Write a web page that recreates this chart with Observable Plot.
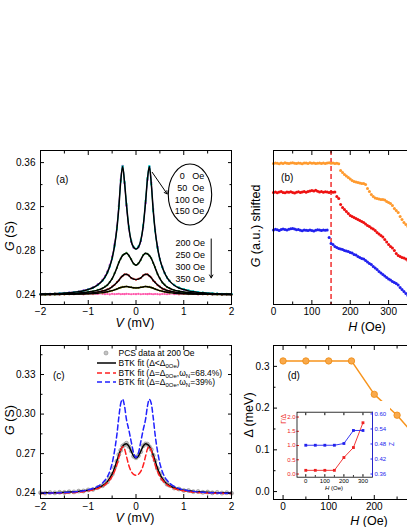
<!DOCTYPE html>
<html><head><meta charset="utf-8">
<script src="https://cdn.jsdelivr.net/npm/d3@7"></script>
<script src="https://cdn.jsdelivr.net/npm/@observablehq/plot@0.6"></script>
<style>
body{margin:0;background:#fff;}
#fig{position:relative;width:407px;height:527px;overflow:hidden;background:#fff;font-family:"Liberation Sans",Arial,sans-serif;color:#000;}
#fig svg{position:absolute;max-width:none;}
.lab{position:absolute;white-space:nowrap;transform:translate(-50%,-50%);font-size:12.5px;line-height:1;}
.rot{transform:translate(-50%,-50%) rotate(-90deg);}
.leg{position:absolute;font-size:8.5px;white-space:nowrap;line-height:10px;height:10px;display:flex;align-items:center;}
.leg svg{position:static !important;margin-right:3px;}
.leg sub{font-size:6px;vertical-align:-2px;line-height:0;}
</style></head><body><div id="fig"></div><script>
// ---------- panel (a) / (c): bias grid and conductance curves ----------
const Vgrid = [-2,-1.9,-1.8,-1.7,-1.6,-1.5,-1.4,-1.3,-1.2,-1.1,-1,-0.9,-0.8,-0.7,
  -0.65,-0.6,-0.55,-0.5,-0.45,-0.4,-0.36,-0.32,-0.28,-0.24,-0.2,-0.15,-0.1,-0.05,0,
  0.05,0.1,0.15,0.2,0.24,0.28,0.32,0.36,0.4,0.45,0.5,0.55,0.6,0.65,
  0.7,0.8,0.9,1,1.1,1.2,1.3,1.4,1.5,1.6,1.7,1.8,1.9,2];
const fitLow = [.2405,.2406,.2407,.2409,.2411,.2414,.2417,.2421,.2427,.2435,.2447,.2462,.2488,.2528,
  .2558,.2600,.2655,.2730,.2840,.3000,.3190,.3430,.3565,.3420,.3220,.3010,.2885,.2830,.2815,
  .2832,.2890,.3020,.3240,.3450,.3565,.3410,.3170,.2985,.2830,.2722,.2650,.2596,.2555,
  .2525,.2485,.2460,.2446,.2434,.2426,.2420,.2416,.2413,.2410,.2408,.2406,.2405,.2404];
const g0Oe = [.2404,.2408,.2406,.2410,.2410,.2416,.2418,.2423,.2429,.2438,.2451,.2468,.2495,.2537,
  .2568,.2612,.2670,.2748,.2862,.3025,.3215,.3450,.3570,.3410,.3205,.2998,.2878,.2826,.2814,
  .2828,.2884,.3010,.3228,.3440,.3562,.3420,.3180,.2992,.2836,.2726,.2652,.2598,.2557,
  .2527,.2487,.2462,.2447,.2436,.2427,.2420,.2417,.2413,.2411,.2407,.2406,.2404,.2403];
const g50Oe = [.2403,.2405,.2408,.2408,.2412,.2413,.2419,.2422,.2428,.2436,.2449,.2465,.2491,.2533,
  .2563,.2606,.2663,.2740,.2852,.3014,.3205,.3442,.3568,.3415,.3212,.3004,.2882,.2828,.2816,
  .2830,.2887,.3015,.3235,.3446,.3564,.3415,.3175,.2990,.2834,.2725,.2652,.2597,.2556,
  .2526,.2486,.2461,.2447,.2435,.2427,.2421,.2416,.2414,.2410,.2409,.2405,.2406,.2404];
const g100Oe = [.2406,.2405,.2407,.2408,.2411,.2414,.2416,.2421,.2426,.2434,.2446,.2461,.2486,.2525,
  .2555,.2597,.2651,.2725,.2834,.2992,.3182,.3425,.3563,.3428,.3230,.3020,.2892,.2834,.2817,
  .2838,.2898,.3032,.3255,.3462,.3568,.3400,.3158,.2975,.2822,.2716,.2646,.2594,.2554,
  .2526,.2488,.2465,.2451,.2439,.2430,.2423,.2419,.2415,.2412,.2409,.2407,.2406,.2405];
const g150Oe = [.2405,.2407,.2406,.2409,.2410,.2415,.2417,.2420,.2427,.2435,.2447,.2463,.2489,.2530,
  .2560,.2603,.2659,.2735,.2846,.3007,.3198,.3436,.3566,.3422,.3222,.3013,.2888,.2831,.2816,
  .2835,.2894,.3026,.3248,.3456,.3566,.3405,.3165,.2980,.2826,.2720,.2649,.2597,.2557,
  .2528,.2489,.2464,.2450,.2438,.2429,.2422,.2418,.2414,.2412,.2410,.2406,.2407,.2404];
const fit200 = [.2402,.2403,.2403,.2404,.2405,.2407,.2409,.2411,.2414,.2418,.2423,.2430,.2441,.2458,
  .2470,.2488,.2512,.2545,.2590,.2645,.2690,.2728,.2755,.2770,.2776,.2757,.2718,.2682,.2667,
  .2682,.2718,.2757,.2776,.2770,.2755,.2728,.2690,.2645,.2590,.2545,.2512,.2488,.2470,
  .2458,.2441,.2430,.2423,.2418,.2414,.2411,.2409,.2407,.2405,.2404,.2403,.2403,.2402];
const g200Oe = [.2404,.2401,.2405,.2403,.2407,.2406,.2411,.2410,.2416,.2417,.2425,.2429,.2443,.2457,
  .2473,.2486,.2515,.2543,.2594,.2642,.2693,.2725,.2758,.2768,.2779,.2754,.2721,.2680,.2669,
  .2684,.2715,.2760,.2774,.2772,.2752,.2731,.2687,.2648,.2587,.2548,.2509,.2491,.2468,
  .2460,.2439,.2432,.2421,.2420,.2412,.2413,.2407,.2409,.2403,.2406,.2401,.2404,.2400];
const fit250 = [.2401,.2402,.2402,.2403,.2403,.2404,.2405,.2406,.2408,.2410,.2413,.2417,.2423,.2432,
  .2438,.2446,.2457,.2471,.2489,.2510,.2530,.2552,.2570,.2582,.2585,.2572,.2552,.2541,.2537,
  .2541,.2552,.2572,.2585,.2582,.2570,.2552,.2530,.2510,.2489,.2471,.2457,.2446,.2438,
  .2432,.2423,.2417,.2413,.2410,.2408,.2406,.2405,.2404,.2403,.2403,.2402,.2402,.2401];
const g250Oe = [.2399,.2404,.2400,.2405,.2402,.2406,.2403,.2408,.2407,.2412,.2412,.2419,.2421,.2435,
  .2436,.2449,.2455,.2474,.2487,.2513,.2528,.2555,.2568,.2585,.2583,.2575,.2550,.2543,.2535,
  .2544,.2550,.2575,.2583,.2585,.2568,.2555,.2527,.2513,.2486,.2474,.2454,.2448,.2436,
  .2434,.2421,.2419,.2411,.2412,.2406,.2408,.2403,.2406,.2401,.2405,.2400,.2403,.2399];
const fit300 = [.2400,.2401,.2401,.2402,.2402,.2403,.2403,.2404,.2405,.2406,.2408,.2410,.2413,.2418,
  .2421,.2425,.2430,.2436,.2443,.2451,.2458,.2464,.2469,.2472,.2473,.2470,.2466,.2462,.2461,
  .2462,.2466,.2470,.2473,.2472,.2469,.2464,.2458,.2451,.2443,.2436,.2430,.2425,.2421,
  .2418,.2413,.2410,.2408,.2406,.2405,.2404,.2403,.2403,.2402,.2402,.2401,.2401,.2400];
const g300Oe = [.2401,.2399,.2402,.2400,.2403,.2401,.2404,.2403,.2406,.2405,.2409,.2409,.2414,.2417,
  .2422,.2424,.2431,.2435,.2444,.2450,.2459,.2463,.2470,.2471,.2474,.2469,.2467,.2461,.2462,
  .2461,.2467,.2469,.2474,.2471,.2470,.2463,.2459,.2450,.2444,.2435,.2431,.2424,.2422,
  .2417,.2414,.2409,.2409,.2405,.2406,.2403,.2404,.2402,.2403,.2400,.2402,.2400,.2401];
const g350Oe = [.2405,.2402,.2407,.2403,.2406,.2401,.2405,.2404,.2407,.2402,.2406,.2403,.2405,.2407,
  .2404,.2406,.2402,.2407,.2404,.2405,.2408,.2403,.2406,.2404,.2407,.2405,.2403,.2406,.2404,
  .2407,.2403,.2405,.2406,.2404,.2407,.2405,.2403,.2406,.2404,.2402,.2406,.2405,.2403,
  .2406,.2404,.2402,.2405,.2403,.2406,.2401,.2404,.2402,.2405,.2403,.2401,.2404,.2402];
const btkRed = [.2398,.2398,.2399,.2399,.2400,.2401,.2403,.2405,.2408,.2412,.2418,.2425,.2436,.2452,
  .2464,.2480,.2500,.2528,.2565,.2615,.2670,.2725,.2752,.2735,.2680,.2610,.2565,.2543,.2537,
  .2543,.2565,.2610,.2680,.2735,.2752,.2725,.2670,.2615,.2565,.2528,.2500,.2480,.2464,
  .2452,.2436,.2425,.2418,.2412,.2408,.2405,.2403,.2401,.2400,.2399,.2399,.2398,.2398];
const btkBlue = [.2400,.2400,.2401,.2402,.2403,.2405,.2407,.2410,.2414,.2419,.2426,.2436,.2452,.2478,
  .2498,.2524,.2565,.2626,.2720,.2845,.2975,.3080,.3112,.3060,.2960,.2880,.2790,.2705,.2671,
  .2705,.2790,.2880,.2960,.3060,.3112,.3080,.2975,.2845,.2720,.2626,.2565,.2524,.2498,
  .2478,.2452,.2436,.2426,.2419,.2414,.2410,.2407,.2405,.2403,.2402,.2401,.2400,.2400];

// ---------- panel (b): G vs H, shifted (a.u.) ----------
const Hb = [0,5,10,15,20,25,30,35,40,45,50,55,60,65,70,75,80,85,90,95,100,105,110,115,120,125,130,135,140,145,150,155,160,165,170,
  175,180,185,190,195,200,205,210,215,220,225,230,235,240,245,250,255,260,265,270,275,280,285,290,295,300,305,310,315,320,325,330,335,340,345,350];
const bOrange = [141.0,141.6,141.2,140.8,141.5,141.1,141.7,141.3,140.9,141.4,141.8,141.2,141.0,141.5,141.3,140.8,141.6,141.4,141.0,141.7,141.2,141.5,140.9,141.3,141.6,141.1,141.4,141.0,141.5,141.8,141.2,141.4,141.1,141.3,140.8,
  134,132,130,128.5,127,125.5,124,123,122.5,122,121.5,121,121,120,116,113,110,108,106.5,106,105.5,105,105,104.5,103,102,101,99,96,94,92,88,85,82,80,78];
const bRed = [112.0,112.6,111.8,112.4,112.9,112.1,111.7,112.5,112.2,112.8,112.0,111.6,112.3,112.7,112.1,112.5,112.9,112.2,113.0,113.4,114.0,113.6,114.2,113.3,112.6,112.9,112.2,112.7,112.4,112.0,112.8,112.3,112.5,
  108,106,100,97,95,93,91,89,88,87,86,85,84,83,82,80.5,79,78,76.5,75.5,74,72,70.5,69,67.5,65,62.5,60,58,56.5,54,51,49,48,47,46.5,45.5,44];
const bBlue = [74.5,75.2,74.8,74.1,74.9,75.5,75.0,74.4,75.3,75.8,76.0,75.4,74.7,75.1,74.3,73.8,74.6,74.2,73.9,74.5,74.0,73.6,74.3,74.8,74.4,73.9,74.6,74.2,74.5,
  67,61,60,58,57,56,55.5,55,54,53.5,53,52,51.5,50,49.5,48,47,46,45.5,44,42.5,41,40,38,36.5,35,33,31.5,30,28.5,27,25.5,24.5,23,22,21,19.5,17,15,13,11,9];
const bCritical = [150];

// ---------- panel (d) and inset ----------
const dH = [0,50,100,150,200,250,300];
const dGap = [0.313,0.313,0.313,0.313,0.233,0.183,0.12];
const insetH = [0,50,100,150,200,250,300];
const gammaRatio = [0.13,0.13,0.13,0.13,0.58,0.93,1.80];
const zBarrier = [0.475,0.475,0.475,0.475,0.482,0.534,0.534];

// ---------- tick labels ----------
const vMajor = [-2,-1,0,1,2], vMinor = [-1.5,-0.5,0.5,1.5];
const aYMajor = [0.24,0.28,0.32,0.36], aYMinor = [0.26,0.30,0.34];
const cYMajor = [0.24,0.27,0.30,0.33], cYMinor = [0.255,0.285,0.315,0.345];
const bXMajor = [0,100,200,300,400], bXMinor = [50,150,250,350,450], bXLabels = [0,100,200,300];
const dXMajor = [0,100,200,300], dXMinor = [50,150,250,350], dXLabels = [0,100,200];
const dYMajor = [0,0.1,0.2,0.3], dYMinor = [0.05,0.15,0.25];
const iXMajor = [0,100,200,300], iXMinor = [50,150,250];
const iLMajor = [0,0.5,1,1.5,2], iRMajor = [0.36,0.42,0.48,0.54,0.60];
const fieldsLow = ["0","50","100","150"];
const fieldsHigh = ["200 Oe","250 Oe","300 Oe","350 Oe"];

const rows = (arr) => Vgrid.map((V, i) => ({V, G: arr[i]}));
const hrows = (arr) => Hb.map((H, i) => ({H, G: arr[i]}));
const FONT = '"Liberation Sans", Arial, sans-serif';
const style = (fs) => ({fontFamily: FONT, fontSize: fs + "px", background: "transparent", maxWidth: "none", overflow: "visible", color: "#000"});
const none = () => "";

function boxAxes(o) {
  const m = [];
  const tl = o.tl ?? 4, tm = o.tm ?? 2.5;
  for (const anchor of ["bottom", "top"]) {
    m.push(Plot.axisX({anchor, ticks: o.xMajor, tickSize: -tl, tickFormat: none, label: null}));
    if (o.xMinor) m.push(Plot.axisX({anchor, ticks: o.xMinor, tickSize: -tm, tickFormat: none, label: null}));
  }
  if (o.yMajor) for (const anchor of ["left", "right"]) {
    m.push(Plot.axisY({anchor, ticks: o.yMajor, tickSize: -tl, tickFormat: none, label: null}));
    if (o.yMinor) m.push(Plot.axisY({anchor, ticks: o.yMinor, tickSize: -tm, tickFormat: none, label: null}));
  }
  m.push(Plot.axisX({anchor: "bottom", ticks: o.xLabels ?? o.xMajor, tickSize: 0, tickPadding: o.xPad ?? 3, tickFormat: o.xFmt, label: null}));
  if (o.yMajor) m.push(Plot.axisY({anchor: "left", ticks: o.yMajor, tickSize: 0, tickPadding: o.yPad ?? 5, tickFormat: o.yFmt, label: null}));
  m.push(Plot.frame({stroke: "#000", strokeWidth: 1}));
  return m;
}

const fig = document.getElementById("fig");
function place(svg, left, top) { svg.style.left = left + "px"; svg.style.top = top + "px"; fig.appendChild(svg); }
function label(html, cx, cy, rot, extra) {
  const d = document.createElement("div");
  d.className = "lab" + (rot ? " rot" : "");
  d.style.left = cx + "px"; d.style.top = cy + "px";
  if (extra) Object.assign(d.style, extra);
  d.innerHTML = html; fig.appendChild(d);
}
const fmt2 = d3.format(".2f"), fmt1 = d3.format(".1f"), fmtD = d3.format("d");

// ---------- (a) ----------
const aData = [
  [g350Oe, "#ff55aa"], [g300Oe, "#a3a300"], [g250Oe, "#ee2222"], [g200Oe, "#22a022"],
  [g0Oe, "#ff33ff"], [g50Oe, "#4a4aff"], [g150Oe, "#66dd22"], [g100Oe, "#00e0ff"]
];
const ellipseMark = (index, scales) => {
  const e = document.createElementNS("http://www.w3.org/2000/svg", "ellipse");
  e.setAttribute("cx", scales.x(1.141)); e.setAttribute("cy", scales.y(0.3305));
  e.setAttribute("rx", 21.7); e.setAttribute("ry", 30.5);
  e.setAttribute("fill", "none"); e.setAttribute("stroke", "#000"); e.setAttribute("stroke-width", 1.1);
  return e;
};
const plotA = Plot.plot({
  width: 245, height: 200, marginLeft: 40, marginRight: 14, marginTop: 10, marginBottom: 36,
  x: {domain: [-2, 2]}, y: {domain: [0.231, 0.371]}, style: style(10),
  marks: [
    ...aData.flatMap(([arr, c]) => [
      Plot.line(rows(arr), {x: "V", y: "G", stroke: c, strokeWidth: 0.8, curve: "monotone-x"}),
      Plot.dot(rows(arr), {x: "V", y: "G", fill: c, r: 1.05})
    ]),
    ...[fit300, fit250, fit200, fitLow].map(arr => Plot.line(rows(arr), {x: "V", y: "G", stroke: "#000", strokeWidth: 1.5, curve: "monotone-x"})),
    ellipseMark,
    Plot.text([fieldsLow.join("\n")], {x: () => 0.968, y: () => 0.3323, textAnchor: "middle", lineAnchor: "middle", lineHeight: 1.3, fontSize: 9}),
    Plot.text([fieldsLow.map(() => "Oe").join("\n")], {x: () => 1.177, y: () => 0.3323, textAnchor: "start", lineAnchor: "middle", lineHeight: 1.3, fontSize: 9}),
    Plot.text([fieldsHigh.join("\n")], {x: () => 0.827, y: () => 0.2714, textAnchor: "start", lineAnchor: "middle", lineHeight: 1.32, fontSize: 9}),
    Plot.arrow([0], {x1: () => 0.339, y1: () => 0.3512, x2: () => 0.653, y2: () => 0.3315, stroke: "#000", strokeWidth: 1, headLength: 5}),
    Plot.arrow([0], {x1: () => 1.575, y1: () => 0.2906, x2: () => 1.575, y2: () => 0.2552, stroke: "#000", strokeWidth: 1, headLength: 5}),
    Plot.text(["(a)"], {frameAnchor: "top-left", dx: 21.7, dy: 25, textAnchor: "middle", fontSize: 10}),
    ...boxAxes({xMajor: vMajor, xMinor: vMinor, yMajor: aYMajor, yMinor: aYMinor, xFmt: fmtD, yFmt: fmt2})
  ]
});
place(plotA, 0, 140);

// ---------- (b) ----------
const plotB = Plot.plot({
  width: 211, height: 200, marginLeft: 23, marginRight: 0, marginTop: 10, marginBottom: 36,
  x: {domain: [0, 490]}, y: {domain: [0, 154], axis: null}, style: style(10),
  marks: [
    Plot.ruleX(bCritical, {stroke: "#ee1111", strokeWidth: 1.3, strokeDasharray: "5,3"}),
    Plot.dot(hrows(bOrange), {x: "H", y: "G", fill: "#ff9a2e", r: 1.5}),
    Plot.dot(hrows(bRed), {x: "H", y: "G", fill: "#ee1111", r: 1.5}),
    Plot.dot(hrows(bBlue), {x: "H", y: "G", fill: "#2020ee", r: 1.5}),
    Plot.text(["(b)"], {frameAnchor: "top-left", dx: 13.7, dy: 23.3, textAnchor: "middle", fontSize: 10}),
    ...boxAxes({xMajor: bXMajor, xMinor: bXMinor, xLabels: bXLabels, xFmt: fmtD})
  ]
});
place(plotB, 250, 140);

// ---------- (c) ----------
const plotC = Plot.plot({
  width: 245, height: 200, marginLeft: 40, marginRight: 14, marginTop: 10, marginBottom: 37,
  x: {domain: [-2, 2]}, y: {domain: [0.236, 0.352]}, style: style(10),
  marks: [
    Plot.dot(rows(g200Oe), {x: "V", y: "G", fill: "#c4c4c4", stroke: "#8c8c8c", strokeWidth: 0.6, r: 2}),
    Plot.line(rows(fit200), {x: "V", y: "G", stroke: "#000", strokeWidth: 1.5, curve: "monotone-x"}),
    Plot.line(rows(btkRed), {x: "V", y: "G", stroke: "#ff2020", strokeWidth: 1.5, strokeDasharray: "5,3", curve: "monotone-x"}),
    Plot.line(rows(btkBlue), {x: "V", y: "G", stroke: "#2020ff", strokeWidth: 1.5, strokeDasharray: "5,3", curve: "monotone-x"}),
    Plot.text(["(c)"], {frameAnchor: "top-left", dx: 18.3, dy: 26.7, textAnchor: "middle", fontSize: 10}),
    ...boxAxes({xMajor: vMajor, xMinor: vMinor, yMajor: cYMajor, yMinor: cYMinor, xFmt: fmtD, yFmt: fmt2, xPad: 4})
  ]
});
place(plotC, 0, 335);

// ---------- (d) ----------
const dRows = dH.map((H, i) => ({H, D: dGap[i]}));
const plotD = Plot.plot({
  width: 220, height: 200, marginLeft: 23, marginRight: 5, marginTop: 10, marginBottom: 36,
  x: {domain: [-21, 400]}, y: {domain: [-0.019, 0.35]}, style: style(10),
  marks: [
    Plot.line(dRows, {x: "H", y: "D", stroke: "#f7941d", strokeWidth: 1.5}),
    Plot.dot(dRows, {x: "H", y: "D", fill: "#f9a94b", stroke: "#ee8a10", strokeWidth: 0.8, r: 3.2}),
    Plot.text(["(d)"], {frameAnchor: "top-left", dx: 20.3, dy: 26.7, textAnchor: "middle", fontSize: 10}),
    ...boxAxes({xMajor: dXMajor, xMinor: dXMinor, xLabels: dXLabels, yMajor: dYMajor, yMinor: dYMinor, xFmt: fmtD, yFmt: fmt1, yPad: 4})
  ]
});
place(plotD, 250, 335);

// ---------- inset ----------
const gRows = insetH.map((H, i) => ({H, v: gammaRatio[i]}));
const zRows = insetH.map((H, i) => ({H, v: zBarrier[i]}));
const insetBox = {width: 110, height: 90, marginLeft: 16.5, marginRight: 18, marginTop: 10.7, marginBottom: 14.3};
const inset1 = Plot.plot({
  ...insetBox, x: {domain: [-46, 350]}, y: {domain: [-0.111, 2.17]},
  style: {...style(6), background: "#fff"},
  marks: [
    Plot.line(gRows, {x: "H", y: "v", stroke: "#ee2222", strokeWidth: 0.9}),
    Plot.dot(gRows, {x: "H", y: "v", fill: "#ee2222", symbol: "square", r: 1.6}),
    Plot.axisX({anchor: "bottom", ticks: iXMajor, tickSize: -2.5, tickFormat: none, label: null}),
    Plot.axisX({anchor: "bottom", ticks: iXMinor, tickSize: -1.5, tickFormat: none, label: null}),
    Plot.axisX({anchor: "top", ticks: iXMajor, tickSize: -2.5, tickFormat: none, label: null}),
    Plot.axisX({anchor: "bottom", ticks: iXMajor, tickSize: 0, tickPadding: 2, tickFormat: fmtD, label: null}),
    Plot.axisY({anchor: "left", ticks: iLMajor, tickSize: -2.5, tickFormat: none, label: null, stroke: "#ee2222"}),
    Plot.axisY({anchor: "left", ticks: iLMajor, tickSize: 0, tickPadding: 1.5, tickFormat: fmt1, label: null, fill: "#ee2222"}),
    Plot.frame({stroke: "#000", strokeWidth: 0.8})
  ]
});
place(inset1, 280, 401);
const inset2 = Plot.plot({
  ...insetBox, x: {domain: [-46, 350], axis: null}, y: {domain: [0.3474, 0.607]},
  style: style(6),
  marks: [
    Plot.line(zRows, {x: "H", y: "v", stroke: "#2222ee", strokeWidth: 0.9}),
    Plot.dot(zRows, {x: "H", y: "v", fill: "#2222ee", symbol: "square", r: 1.6}),
    Plot.axisY({anchor: "right", ticks: iRMajor, tickSize: -2.5, tickFormat: none, label: null, stroke: "#2222ee"}),
    Plot.axisY({anchor: "right", ticks: iRMajor, tickSize: 0, tickPadding: 2, tickFormat: fmt2, label: null, fill: "#2222ee"}),
    Plot.ruleX([350], {stroke: "#2222ee", strokeWidth: 0.8})
  ]
});
place(inset2, 280, 401);

// ---------- axis titles ----------
label("<i>G</i> (S)", 10, 236, true);
label("<i>V</i> (mV)", 135, 323, false);
label("<i>G</i> (a.u.) shifted", 256, 226, true);
label("<i>H</i> (Oe)", 367, 327, false);
label("<i>G</i> (S)", 10, 420, true);
label("<i>V</i> (mV)", 135, 518, false);
label("&Delta; (meV)", 249, 415, true);
label("<i>H</i> (Oe)", 369, 520.5, false);
label("&Gamma;/&Delta;", 284, 419, true, {fontSize: "6.5px", color: "#ee2222"});
label("Z", 392, 444, true, {fontSize: "6.5px", color: "#2222ee"});
label("<i>H</i> (Oe)", 334, 487.5, false, {fontSize: "6px"});

// ---------- legend (c) ----------
const legendItems = [
  {sw: '<circle cx="9" cy="5" r="2" fill="#c4c4c4" stroke="#8c8c8c" stroke-width="0.6"/>', html: "PCS data at 200 Oe", y: 352.5},
  {sw: '<line x1="0" y1="5" x2="19" y2="5" stroke="#000" stroke-width="1.5"/>', html: "BTK fit (&Delta;&lt;&Delta;<sub>0Oe</sub>)", y: 362.7},
  {sw: '<line x1="0" y1="5" x2="19" y2="5" stroke="#ff2020" stroke-width="1.5" stroke-dasharray="5,3"/>', html: "BTK fit (&Delta;=&Delta;<sub>0Oe</sub>,&omega;<sub>N</sub>=68.4%)", y: 372.5},
  {sw: '<line x1="0" y1="5" x2="19" y2="5" stroke="#2020ff" stroke-width="1.5" stroke-dasharray="5,3"/>', html: "BTK fit (&Delta;=&Delta;<sub>0Oe</sub>,&omega;<sub>N</sub>=39%)", y: 382.3}
];
for (const it of legendItems) {
  const d = document.createElement("div");
  d.className = "leg";
  d.style.left = "96.5px"; d.style.top = (it.y - 5) + "px";
  d.innerHTML = `<svg width="19" height="10">${it.sw}</svg><span>${it.html}</span>`;
  fig.appendChild(d);
}
</script></body></html>
